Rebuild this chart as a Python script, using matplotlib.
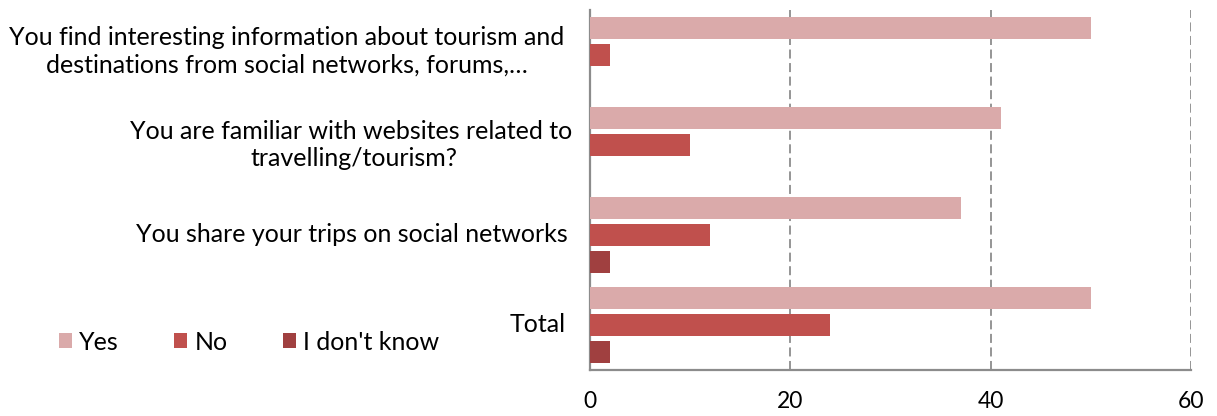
import numpy as np
import matplotlib
matplotlib.use('Agg')
import matplotlib.pyplot as plt
from matplotlib.transforms import blended_transform_factory

plt.rcParams['font.family'] = ['Lato', 'DejaVu Sans']

# === Survey answers (counts) ===
categories = [
    'You find interesting information about tourism and\ndestinations from social networks, forums,…',
    'You are familiar with websites related to \ntravelling/tourism?',
    'You share your trips on social networks',
    'Total',
]
yes = [50, 41, 37, 50]
no = [2, 10, 12, 24]
dont_know = [0, 0, 2, 2]
series_names = ['Yes', 'No', "I don't know"]
x_ticks = [0, 20, 40, 60]

colors = ['#DAAAAA', '#C0504D', '#A04040']
grid_col = '#8C8C8C'
fs = 18

fig = plt.figure(figsize=(12.17, 4.16), dpi=100)
ax = fig.add_axes([590 / 1217, 1 - 370 / 416, 601 / 1217, 360 / 416])

pos = np.arange(len(categories))
step = 0.30
bar_h = 0.24
for i, (vals, name) in enumerate(zip([yes, no, dont_know], series_names)):
    ax.barh(pos + (i - 1) * step, vals, height=bar_h, color=colors[i],
            linewidth=0, label=name, zorder=3)

ax.set_xlim(0, 60)
ax.set_ylim(3.5, -0.5)
ax.set_xticks(x_ticks)
ax.set_xticklabels([str(t) for t in x_ticks], fontsize=16.5)
ax.tick_params(axis='x', length=0, pad=15)
ax.set_yticks([])

# dashed vertical gridlines, no line at zero (the spine sits there)
for t in x_ticks[1:]:
    ax.axvline(t, color=grid_col, linestyle=(0, (5, 2.5)), linewidth=1.3, zorder=1)

for side in ['top', 'right']:
    ax.spines[side].set_visible(False)
for side in ['left', 'bottom']:
    ax.spines[side].set_color(grid_col)
    ax.spines[side].set_linewidth(1.6)

# category labels, wrapped and centred like the spreadsheet export
trans = blended_transform_factory(ax.transAxes, ax.transData)
label_centres = [287, 354, 352, 538]
label_shift = [-0.04, 0, 0, 0]
for y, text, cx, dy in zip(pos, categories, label_centres, label_shift):
    ax.text((cx - 590) / 601, y + dy, text,
            transform=trans, ha='center', va='center', multialignment='center',
            fontsize=fs, linespacing=1.2)

fig.legend(loc='center', bbox_to_anchor=(249 / 1217, 1 - 342 / 416), ncol=3,
           frameon=False, fontsize=fs, handlelength=0.52, handleheight=0.52,
           handletextpad=0.3, columnspacing=2.2)

fig.savefig('out.png', dpi=100)
